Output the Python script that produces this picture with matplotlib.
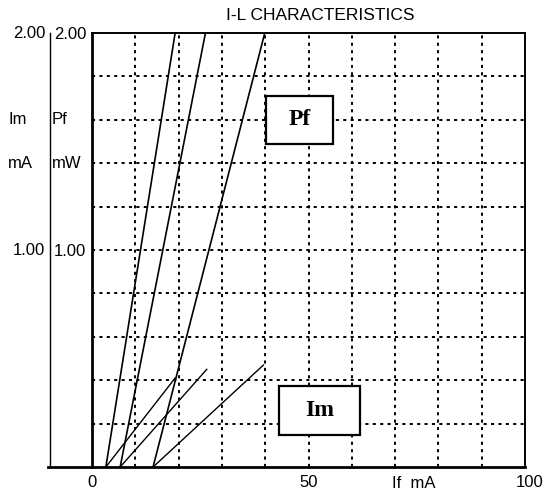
import matplotlib
matplotlib.use("Agg")
import matplotlib.pyplot as plt
from matplotlib.lines import Line2D
from matplotlib.patches import Rectangle
from matplotlib.transforms import blended_transform_factory, ScaledTranslation

plt.rcParams['font.family'] = ['Liberation Sans', 'DejaVu Sans']

# light output (Pf, mW) vs forward current (If, mA) -- three curves
pf_if = [[3.2, 19.2], [6.5, 26.2], [14.1, 39.9]]
pf_mw = [[0.0, 2.0], [0.0, 2.0], [0.0, 2.0]]
# monitor current (Im, mA) vs forward current
im_if = [[3.2, 19.2], [6.5, 26.5], [14.1, 39.6]]
im_ma = [[0.0, 0.41], [0.0, 0.45], [0.0, 0.47]]

x_ticks = [0, 50, 100]
x_ticklabels = ["0", "50", "100"]
y_ticks = [1.0, 2.0]
y_ticklabels = ["1.00", "2.00"]
x_grid = [10, 20, 30, 40, 50, 60, 70, 80, 90]
y_grid = [0.2, 0.4, 0.6, 0.8, 1.0, 1.2, 1.4, 1.6, 1.8]

W, H = 546, 499
fig = plt.figure(figsize=(W / 100, H / 100), dpi=100)
L, R, B, T = 92, 525, 467, 33
ax = fig.add_axes([L / W, 1 - B / H, (R - L) / W, (B - T) / H])
ax.set_xlim(0, 100)
ax.set_ylim(0, 2.0)

# dotted grid
for gx in x_grid:
    ax.axvline(gx, color="black", lw=1.4, ls=(0, (1.6, 2.2)), zorder=1)
for gy in y_grid:
    ax.axhline(gy, color="black", lw=1.4, ls=(0, (1.6, 2.2)), zorder=1)

for xs, ys in zip(pf_if, pf_mw):
    ax.plot(xs, ys, color="black", lw=1.2, zorder=3)
for xs, ys in zip(im_if, im_ma):
    ax.plot(xs, ys, color="black", lw=1.0, zorder=3)

# boxed curve labels
ax.add_patch(Rectangle((40.2, 1.488), 15.5, 0.222, facecolor="white",
                       edgecolor="black", lw=1.6, zorder=4))
ax.text(47.95, 1.60, "Pf", ha="center", va="center", fontsize=17,
        fontweight="bold", family="Liberation Serif", zorder=5)
ax.add_patch(Rectangle((43.2, 0.147), 18.7, 0.226, facecolor="white",
                       edgecolor="black", lw=1.6, zorder=4))
ax.text(52.55, 0.26, "Im", ha="center", va="center", fontsize=17,
        fontweight="bold", family="Liberation Serif", zorder=5)

# axes styling
ax.spines["left"].set_linewidth(2.0)
ax.spines["bottom"].set_linewidth(2.0)
ax.spines["top"].set_linewidth(1.4)
ax.spines["right"].set_linewidth(1.4)
ax.set_xticks(x_ticks)
ax.set_xticklabels(x_ticklabels)
ax.set_yticks(y_ticks)
ax.set_yticklabels(y_ticklabels)
ax.tick_params(length=0, labelsize=12)
ax.tick_params(axis="x", pad=6)
ax.tick_params(axis="y", pad=4)
# last x label sits a little right of the frame in the original
lab100 = ax.get_xticklabels()[-1]
lab100.set_transform(lab100.get_transform() + ScaledTranslation(5 / 100, 0, fig.dpi_scale_trans))

# second (outer) y axis for Im
fy = blended_transform_factory(fig.transFigure, ax.transData)
fig.add_artist(Line2D([50 / W, 50 / W], [1 - B / H, 1 - T / H], color="black", lw=1.0,
                      transform=fig.transFigure))
fig.add_artist(Line2D([48 / W, L / W], [1 - B / H, 1 - B / H], color="black", lw=2.0,
                      transform=fig.transFigure))
for yv, lab in zip(y_ticks, y_ticklabels):
    fig.text(45 / W, yv, lab, ha="right", va="center", fontsize=12, transform=fy)
fig.text(8 / W, 1.6, "Im", ha="left", va="center", fontsize=12, transform=fy)
fig.text(8 / W, 1.4, "mA", ha="left", va="center", fontsize=12, transform=fy)
fig.text(52 / W, 1.6, "Pf", ha="left", va="center", fontsize=12, transform=fy)
fig.text(52 / W, 1.4, "mW", ha="left", va="center", fontsize=12, transform=fy)

# x axis label sits among the tick labels
ax.text(74.3, -16 / (B - T), "If  mA", ha="center", va="center", fontsize=12,
        transform=ax.get_xaxis_transform(), clip_on=False)

fig.text(320 / W, 1 - 15 / H, "I-L CHARACTERISTICS", ha="center", va="center", fontsize=12.5)

fig.savefig("out.png", dpi=100)
